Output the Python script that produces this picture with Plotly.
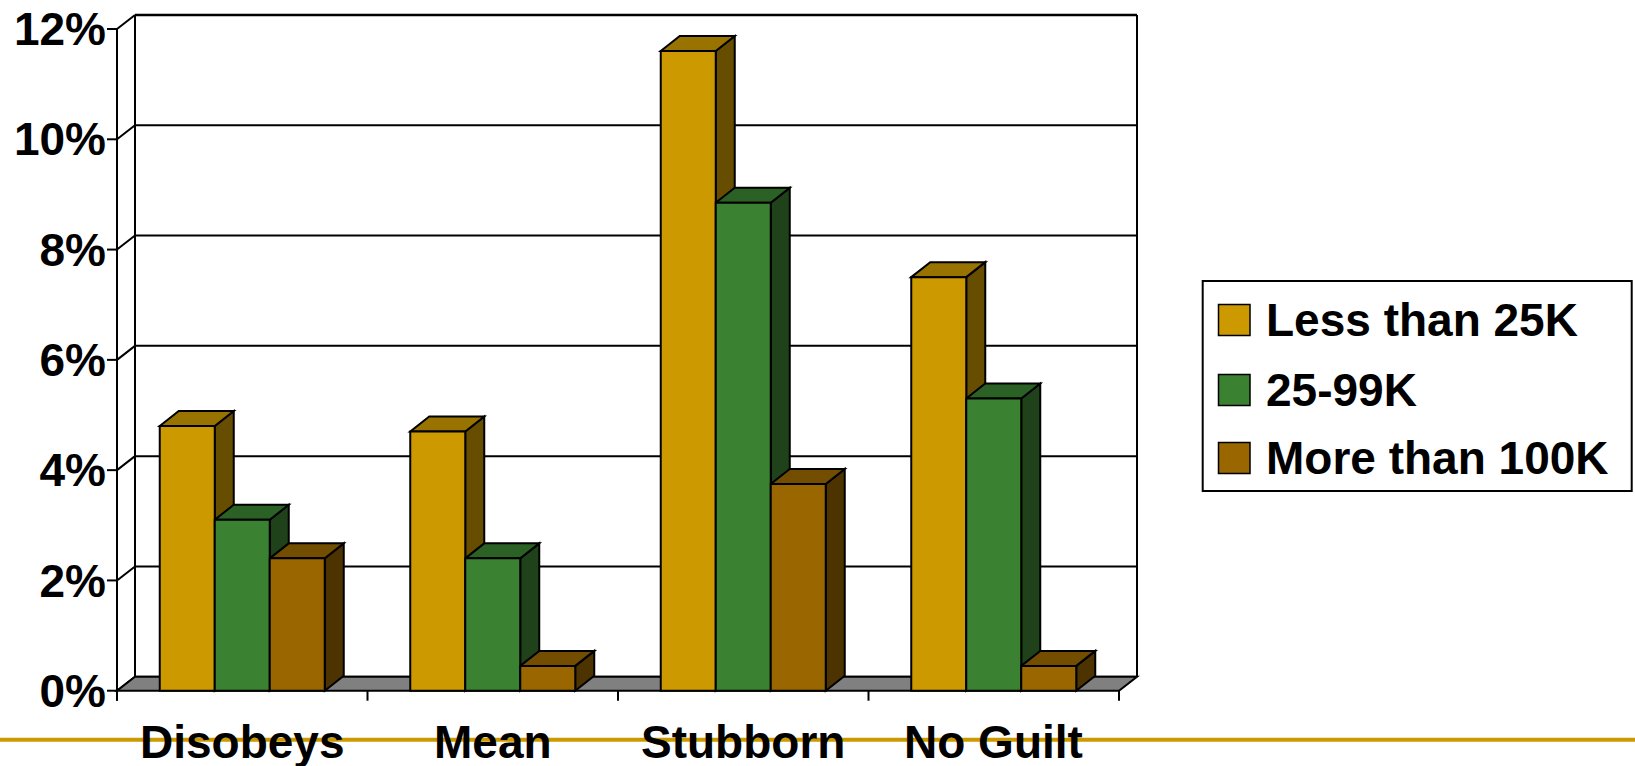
import plotly.graph_objects as go

# ---- data -------------------------------------------------------------
categories = ["Disobeys", "Mean", "Stubborn", "No Guilt"]
series_names = ["Less than 25K", "25-99K", "More than 100K"]
less_than_25k = [4.8, 4.7, 11.6, 7.5]
from_25_to_99k = [3.1, 2.4, 8.85, 5.3]
more_than_100k = [2.4, 0.45, 3.75, 0.45]
y_tick_values = [0, 2, 4, 6, 8, 10, 12]
y_tick_labels = ["0%", "2%", "4%", "6%", "8%", "10%", "12%"]

series_values = [less_than_25k, from_25_to_99k, more_than_100k]

# ---- styling ----------------------------------------------------------
# (front, top, side) colours for each series
face_colors = [
    ("#CC9900", "#997300", "#664D00"),
    ("#3A8232", "#2C6126", "#1F421A"),
    ("#996600", "#734D00", "#4D3300"),
]
FONT = "Liberation Sans, Arial, sans-serif"
ACCENT = "#CC9900"

W, H = 1635, 766
L, R, T, B = 107, 1150, 8, 712          # plot area in pixels
CAT_PX = 250.5                           # pixels per category
UNIT_PX = 55.14                          # pixels per percentage point
ORIGIN_X, ORIGIN_Y = 117, 690.7          # pixel position of the front-left corner

x_range = [-0.5 - (ORIGIN_X - L) / CAT_PX, -0.5 + (R - ORIGIN_X) / CAT_PX]
y_range = [-(B - ORIGIN_Y) / UNIT_PX, (ORIGIN_Y - T) / UNIT_PX]

# 3-D depth offsets (in axis units)
FX, FY = 18 / CAT_PX, 14 / UNIT_PX       # floor / walls
BX, BY = 19 / CAT_PX, 15 / UNIT_PX       # bar depth
BAR_W = 55 / CAT_PX
TICK_X, TICK_Y = 10 / CAT_PX, 10 / UNIT_PX

n_cat = len(categories)
x_lo, x_hi = -0.5, n_cat - 0.5
y_top = y_tick_values[-1]


def px_x(px):
    return (px - L) / (R - L)


def px_y(py):
    return (B - py) / (B - T)


def line(x0, y0, x1, y1, width=2, color="black", xref="x", yref="y"):
    return dict(type="line", x0=x0, y0=y0, x1=x1, y1=y1, xref=xref, yref=yref,
                line=dict(color=color, width=width), layer="below")


def poly(points, fill, width=2):
    path = "M " + " L ".join(f"{px},{py}" for px, py in points) + " Z"
    return dict(type="path", path=path, xref="x", yref="y", fillcolor=fill,
                line=dict(color="black", width=width), layer="below")


shapes = []

# back wall gridlines
for v in y_tick_values:
    w = 2.5 if v == y_top else 2
    shapes.append(line(x_lo + FX, v + FY, x_hi + FX, v + FY, width=w))
# back wall edges
shapes.append(line(x_lo + FX, FY, x_lo + FX, y_top + FY))
shapes.append(line(x_hi + FX, FY, x_hi + FX, y_top + FY))
# side wall diagonals
for v in y_tick_values:
    shapes.append(line(x_lo, v, x_lo + FX, v + FY))
# front value axis with tick marks
shapes.append(line(x_lo, y_top, x_lo, -TICK_Y))
for v in y_tick_values:
    shapes.append(line(x_lo - TICK_X, v, x_lo, v))
# floor
shapes.append(poly([(x_lo, 0), (x_hi, 0), (x_hi + FX, FY), (x_lo + FX, FY)], "#808080"))
# category tick marks
for k in range(n_cat + 1):
    shapes.append(line(x_lo + k, 0, x_lo + k, -TICK_Y))

# top and side faces of the bars, drawn left to right so the front faces overlap correctly
n_ser = len(series_values)
bar_centers = []
for j in range(n_ser):
    bar_centers.append([i + (j - (n_ser - 1) / 2) * BAR_W for i in range(n_cat)])

for i in range(n_cat):
    for j in range(n_ser):
        v = series_values[j][i]
        xc = bar_centers[j][i]
        xl, xr = xc - BAR_W / 2, xc + BAR_W / 2
        _, top_c, side_c = face_colors[j]
        shapes.append(poly([(xr, 0), (xr + BX, BY), (xr + BX, v + BY), (xr, v)], side_c))
        shapes.append(poly([(xl, v), (xl + BX, v + BY), (xr + BX, v + BY), (xr, v)], top_c))

# accent rule under the chart
shapes.append(line(px_x(0), px_y(739.7), px_x(W), px_y(739.7), width=4, color=ACCENT,
                   xref="paper", yref="paper"))

# legend box and swatches
leg_x0, leg_x1, leg_y0, leg_y1 = 1202.7, 1631.7, 281, 491
shapes.append(dict(type="rect", xref="paper", yref="paper",
                   x0=px_x(leg_x0), x1=px_x(leg_x1), y0=px_y(leg_y1), y1=px_y(leg_y0),
                   line=dict(color="black", width=2), fillcolor="white", layer="above"))
row_centers = [320, 390, 458]
annotations = []
for j, name in enumerate(series_names):
    cy = row_centers[j]
    shapes.append(dict(type="rect", xref="paper", yref="paper",
                       x0=px_x(1218.5), x1=px_x(1250), y0=px_y(cy + 15.5), y1=px_y(cy - 15.5),
                       line=dict(color="black", width=1.5), fillcolor=face_colors[j][0],
                       layer="above"))
    annotations.append(dict(x=px_x(1264), y=px_y(cy), xref="paper", yref="paper",
                            text=name, showarrow=False, xanchor="left", yanchor="middle",
                            font=dict(family=FONT, size=46, color="black", weight="bold")))

# category labels
for i, cat in enumerate(categories):
    annotations.append(dict(x=i, y=px_y(741.5), xref="x", yref="paper", text=cat,
                            showarrow=False, xanchor="center", yanchor="middle",
                            font=dict(family=FONT, size=46, color="black", weight="bold")))

fig = go.Figure()
for j, name in enumerate(series_names):
    fig.add_trace(go.Bar(
        x=bar_centers[j], y=series_values[j], width=BAR_W, name=name,
        marker=dict(color=face_colors[j][0], line=dict(color="black", width=2)),
        showlegend=False, hoverinfo="y",
    ))

fig.update_layout(
    width=W, height=H,
    margin=dict(l=L, r=W - R, t=T, b=H - B, pad=0, autoexpand=False),
    paper_bgcolor="white", plot_bgcolor="rgba(0,0,0,0)",
    barmode="overlay",
    shapes=shapes, annotations=annotations,
    xaxis=dict(range=x_range, showgrid=False, zeroline=False, showticklabels=False,
               ticks="", showline=False, fixedrange=True, automargin=False),
    yaxis=dict(range=y_range, showgrid=False, zeroline=False, showline=False, ticks="",
               tickvals=y_tick_values, ticktext=y_tick_labels, ticklabelstandoff=0,
               tickfont=dict(family=FONT, size=46, color="black", weight="bold"),
               fixedrange=True, automargin=False),
)

fig.write_html("out.html")
